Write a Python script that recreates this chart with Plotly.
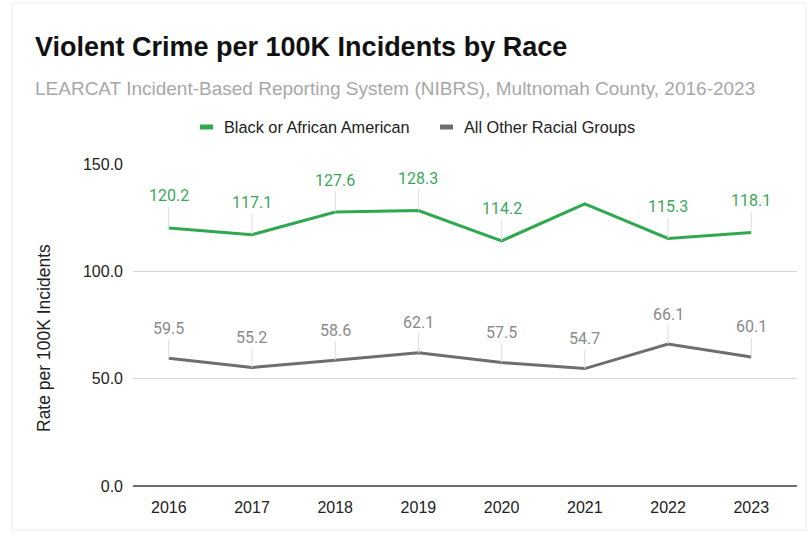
import plotly.graph_objects as go

# Annual violent crime rates per 100K incidents, Multnomah County (LEARCAT / NIBRS)
years = ["2016", "2017", "2018", "2019", "2020", "2021", "2022", "2023"]
black_rate = [120.2, 117.1, 127.6, 128.3, 114.2, 131.4, 115.3, 118.1]
other_rate = [59.5, 55.2, 58.6, 62.1, 57.5, 54.7, 66.1, 60.1]
# 2021 Black or African American value carries no printed label
black_labeled = [True, True, True, True, True, False, True, True]
y_ticks = [0, 50, 100, 150]
series_names = ["Black or African American", "All Other Racial Groups"]

GREEN = "#2fa84f"
GREY = "#6e6e6e"
SANS = "Liberation Sans, Arial, sans-serif"
LABEL_FONT = "Roboto"

# plot-area geometry in pixels, used to place header items in paper units
L, R, T, B, W, H = 133, 12, 164, 56, 809, 542
PW, PH = W - L - R, H - T - B


def px_x(x):
    return (x - L) / PW


def px_y(y):
    return 1 + (T - y) / PH


fig = go.Figure()
fig.add_trace(go.Scatter(
    x=years, y=black_rate, mode="lines", name=series_names[0],
    line=dict(color=GREEN, width=3), hoverinfo="x+y"))
fig.add_trace(go.Scatter(
    x=years, y=other_rate, mode="lines", name=series_names[1],
    line=dict(color=GREY, width=3), hoverinfo="x+y"))

annotations = []
# value labels with thin leader lines; x given as category index
for i, (v, show) in enumerate(zip(black_rate, black_labeled)):
    if show:
        annotations.append(dict(
            x=i, y=v, xref="x", yref="y", text=f"{v:.1f}",
            showarrow=True, arrowhead=0, arrowwidth=1, arrowcolor="#dcdcdc",
            ax=0, ay=-32, font=dict(family=LABEL_FONT, size=16, color="#3aa85a")))
for i, v in enumerate(other_rate):
    annotations.append(dict(
        x=i, y=v, xref="x", yref="y", text=f"{v:.1f}",
        showarrow=True, arrowhead=0, arrowwidth=1, arrowcolor="#dcdcdc",
        ax=0, ay=-30, font=dict(family=LABEL_FONT, size=16, color="#8a8a8a")))

annotations += [
    dict(text="<b>Violent Crime per 100K Incidents by Race</b>", xref="paper", yref="paper",
         x=px_x(33), y=px_y(47), xanchor="left", yanchor="middle", showarrow=False,
         font=dict(family=SANS, size=27, color="#111111")),
    dict(text="LEARCAT Incident-Based Reporting System (NIBRS), Multnomah County, 2016-2023",
         xref="paper", yref="paper", x=px_x(33), y=px_y(88), xanchor="left", yanchor="middle",
         showarrow=False, font=dict(family=SANS, size=19, color="#a8a8a8")),
    # vertical axis title
    dict(text="Rate per 100K Incidents", xref="paper", yref="paper",
         x=px_x(44), y=px_y(338), xanchor="center", yanchor="middle", textangle=-90,
         showarrow=False, font=dict(family=SANS, size=17.5, color="#222222")),
]

# faint frame around the card
shapes = [dict(type="rect", xref="paper", yref="paper",
               x0=px_x(12), x1=px_x(806), y0=px_y(530), y1=px_y(3),
               line=dict(color="#ececec", width=1), layer="below")]

# compact legend: short thick swatch followed by series name
legend_y = px_y(127)
for name, color, sx in zip(series_names, [GREEN, GREY], [200, 440]):
    shapes.append(dict(type="line", xref="paper", yref="paper",
                       x0=px_x(sx), x1=px_x(sx + 13), y0=legend_y, y1=legend_y,
                       line=dict(color=color, width=5)))
    annotations.append(dict(text=name, xref="paper", yref="paper",
                            x=px_x(sx + 22), y=legend_y, xanchor="left", yanchor="middle",
                            showarrow=False, font=dict(family=SANS, size=16.3, color="#222222")))

fig.update_layout(
    width=W, height=H,
    margin=dict(l=L, r=R, t=T, b=B),
    paper_bgcolor="white", plot_bgcolor="white",
    font=dict(family=SANS, size=16, color="#222222"),
    showlegend=False,
    annotations=annotations,
    shapes=shapes,
    xaxis=dict(type="category", range=[-0.43, 7.55], showgrid=False, zeroline=False,
               showline=False, ticks="", ticklabelstandoff=10,
               tickfont=dict(size=16, color="#222222")),
    yaxis=dict(range=[0, 150], tickvals=y_ticks, ticktext=[f"{t:.1f}" for t in y_ticks],
               showgrid=True, gridcolor="#d6d6d6", gridwidth=1,
               zeroline=True, zerolinecolor="#6e6e6e", zerolinewidth=2,
               showline=False, ticks="", ticklen=0, ticklabelstandoff=9,
               tickfont=dict(size=16, color="#222222")),
)

fig.write_html("out.html")
